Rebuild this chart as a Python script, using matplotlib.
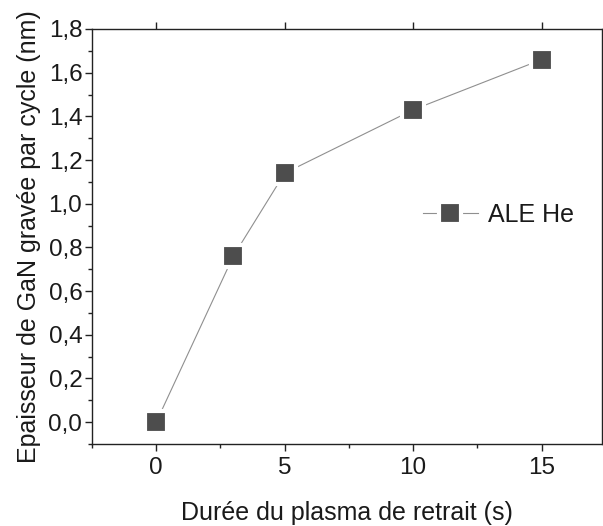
import matplotlib
matplotlib.use("Agg")
import matplotlib.pyplot as plt
from matplotlib.ticker import MultipleLocator, FuncFormatter

duree = [0, 3, 5, 10, 15]
epaisseur = [0.0, 0.76, 1.14, 1.43, 1.66]
serie_label = "ALE He"
xlabel = "Durée du plasma de retrait (s)"
ylabel = "Epaisseur de GaN gravée par cycle (nm)"

plt.rcParams['font.family'] = ['Liberation Sans', 'DejaVu Sans']
txt = '#1a1a1a'

fig = plt.figure(figsize=(6.03, 5.26), dpi=100)
W, H = 603, 526
ax = fig.add_axes([92 / W, 1 - 444 / H, (602 - 92) / W, (444 - 29) / H])

ax.plot(duree, epaisseur, color='#8f8f8f', lw=0.8,
        marker='s', markersize=16.5, markerfacecolor='#4d4d4d',
        markeredgecolor='white', markeredgewidth=3.0, label=serie_label)

ax.set_xlim(-2.5, 17.35)
ax.set_ylim(-0.1, 1.8)
ax.xaxis.set_major_locator(MultipleLocator(5))
ax.xaxis.set_minor_locator(MultipleLocator(2.5))
ax.yaxis.set_major_locator(MultipleLocator(0.2))
ax.yaxis.set_minor_locator(MultipleLocator(0.1))
ax.yaxis.set_major_formatter(FuncFormatter(lambda v, p: f"{v:.1f}".replace('.', ',').replace('-0,0', '0,0')))
ax.xaxis.set_major_formatter(FuncFormatter(lambda v, p: f"{v:.0f}"))

for s in ax.spines.values():
    s.set_linewidth(1.0)
    s.set_color('#222222')

ax.tick_params(which='both', direction='out', colors='#222222', labelcolor=txt,
               labelsize=17.5, width=1.0)
ax.tick_params(which='major', length=5)
ax.tick_params(which='minor', length=3)
ax.tick_params(axis='x', which='major', top=True, pad=4)
ax.tick_params(axis='y', which='major', pad=2)

ax.set_xlabel(xlabel, fontsize=18, color=txt, labelpad=16)
ax.set_ylabel(ylabel, fontsize=18, color=txt, labelpad=5)

leg = ax.legend(loc='center left', bbox_to_anchor=(0.649, 0.552), frameon=False,
                fontsize=18, numpoints=1, borderpad=0, borderaxespad=0,
                handlelength=2.2, handletextpad=0.4)
for t in leg.get_texts():
    t.set_color(txt)

fig.savefig('out.png', dpi=100)
